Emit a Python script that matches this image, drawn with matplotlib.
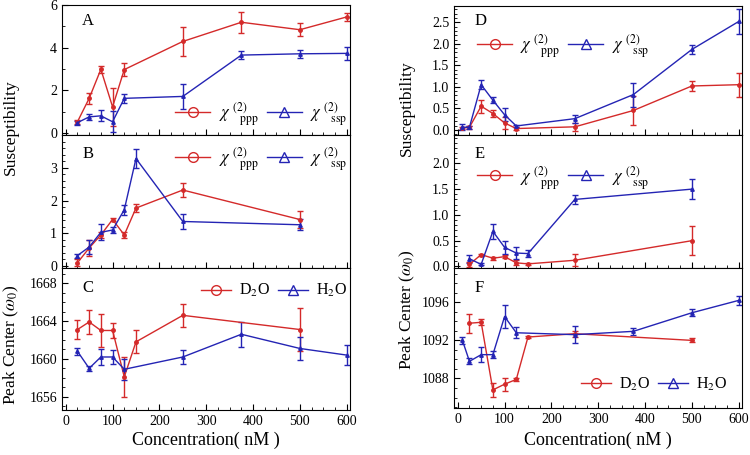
import numpy as np
import matplotlib
matplotlib.use("Agg")
import matplotlib.pyplot as plt
from matplotlib.lines import Line2D
from matplotlib.ticker import MultipleLocator

plt.rcParams['font.family'] = ['Liberation Serif', 'DejaVu Serif']
plt.rcParams['mathtext.fontset'] = 'stix'

red = '#d42a2a'
blue = '#2424b4'

# ---- panel A (susceptibility, left column) ----
a_x_ppp = [25, 50, 75, 100, 125, 250, 375, 500, 600]
a_ppp = [0.52, 1.62, 2.98, 1.22, 2.97, 4.29, 5.19, 4.84, 5.44]
a_ppp_err = [0.1, 0.25, 0.15, 0.9, 0.3, 0.7, 0.5, 0.3, 0.2]
a_x_ssp = [25, 50, 75, 100, 125, 250, 375, 500, 600]
a_ssp = [0.48, 0.75, 0.8, 0.52, 1.62, 1.71, 3.65, 3.71, 3.73]
a_ssp_err = [0.1, 0.15, 0.25, 0.5, 0.22, 0.6, 0.2, 0.18, 0.3]

# ---- panel B ----
b_x_ppp = [25, 50, 75, 100, 125, 150, 250, 500]
b_ppp = [0.1, 0.55, 0.95, 1.42, 0.95, 1.77, 2.32, 1.42]
b_ppp_err = [0.1, 0.25, 0.1, 0.05, 0.1, 0.12, 0.2, 0.27]
b_x_ssp = [25, 50, 75, 100, 125, 150, 250, 500]
b_ssp = [0.32, 0.58, 1.03, 1.1, 1.72, 3.28, 1.36, 1.26]
b_ssp_err = [0.06, 0.22, 0.25, 0.1, 0.15, 0.3, 0.22, 0.17]

# ---- panel C (peak center) ----
c_x_d2o = [25, 50, 75, 100, 125, 150, 250, 500]
c_d2o = [1663.1, 1663.9, 1663.0, 1663.0, 1658.1, 1661.8, 1664.6, 1663.1]
c_d2o_err = [1.05, 1.3, 1.7, 0.8, 2.1, 1.2, 1.25, 2.3]
c_x_h2o = [25, 50, 75, 100, 125, 250, 375, 500, 600]
c_h2o = [1660.8, 1659.0, 1660.2, 1660.2, 1658.9, 1660.2, 1662.6, 1661.1, 1660.4]
c_h2o_err = [0.35, 0.3, 0.8, 0.7, 1.1, 0.7, 1.3, 1.2, 1.05]

# ---- panel D ----
d_x_ppp = [10, 25, 50, 75, 100, 125, 250, 375, 500, 600]
d_ppp = [0.04, 0.06, 0.55, 0.38, 0.16, 0.03, 0.07, 0.45, 1.02, 1.05]
d_ppp_err = [0.03, 0.03, 0.15, 0.09, 0.15, 0.03, 0.1, 0.33, 0.11, 0.28]
d_x_ssp = [10, 25, 50, 75, 100, 125, 250, 375, 500, 600]
d_ssp = [0.06, 0.06, 1.05, 0.69, 0.35, 0.09, 0.26, 0.82, 1.87, 2.52]
d_ssp_err = [0.07, 0.03, 0.11, 0.07, 0.15, 0.03, 0.09, 0.28, 0.1, 0.28]

# ---- panel E ----
e_x_ppp = [25, 50, 75, 100, 125, 150, 250, 500]
e_ppp = [0.04, 0.23, 0.16, 0.19, 0.07, 0.05, 0.12, 0.5]
e_ppp_err = [0.05, 0.02, 0.03, 0.03, 0.05, 0.02, 0.12, 0.28]
e_x_ssp = [25, 50, 75, 100, 125, 150, 250, 500]
e_ssp = [0.15, 0.04, 0.68, 0.37, 0.26, 0.25, 1.3, 1.5]
e_ssp_err = [0.08, 0.02, 0.15, 0.12, 0.12, 0.07, 0.09, 0.19]

# ---- panel F ----
f_x_d2o = [25, 50, 75, 100, 125, 150, 250, 500]
f_d2o = [1093.8, 1093.9, 1086.8, 1087.4, 1087.9, 1092.35, 1092.7, 1092.0]
f_d2o_err = [1.0, 0.3, 0.7, 0.7, 0.12, 0.15, 0.3, 0.2]
f_x_h2o = [10, 25, 50, 75, 100, 125, 250, 375, 500, 600]
f_h2o = [1092.0, 1089.8, 1090.5, 1090.5, 1094.5, 1092.8, 1092.6, 1092.95, 1094.9, 1096.2]
f_h2o_err = [0.4, 0.3, 0.8, 0.4, 1.2, 0.6, 0.9, 0.4, 0.35, 0.5]

chi_ppp = r'$\chi^{\ (2)}_{\ \ \ \ \mathrm{ppp}}$'
chi_ssp = r'$\chi^{\ (2)}_{\ \ \ \ \mathrm{ssp}}$'
lbl_d2o = r'D$_2$O'
lbl_h2o = r'H$_2$O'

fig = plt.figure(figsize=(7.5, 4.55), dpi=100)
W, H = 750.0, 455.0


def box(x0, x1, y0, y1):
    return [x0 / W, 1 - y1 / H, (x1 - x0) / W, (y1 - y0) / H]


def draw(ax, x, y, err, color, marker):
    ax.errorbar(x, y, yerr=err, color=color, marker=marker, markersize=2.5,
                lw=1.0, elinewidth=1.0, capsize=2.2, capthick=1.0)


def style(ax, ylim, major, minor, bottom_labels):
    ax.set_xlim(-8, 607)
    ax.set_ylim(*ylim)
    ax.xaxis.set_major_locator(MultipleLocator(100))
    ax.xaxis.set_minor_locator(MultipleLocator(25))
    ax.set_yticks(major)
    ax.yaxis.set_minor_locator(MultipleLocator(minor))
    ax.tick_params(which='both', direction='in', labelsize=10, top=False, right=False)
    ax.tick_params(which='major', length=4)
    ax.tick_params(which='minor', length=2)
    if not bottom_labels:
        ax.tick_params(axis='x', labelbottom=False)


def legend(ax, labels, anchor, loc, hl=2.1, fs=12):
    h = [Line2D([], [], color=red, marker='o', mfc='none', markersize=7, lw=1),
         Line2D([], [], color=blue, marker='^', mfc='none', markersize=7, lw=1)]
    ax.legend(h, labels, loc=loc, bbox_to_anchor=anchor, ncol=2, frameon=False,
              fontsize=fs, handlelength=hl, handletextpad=0.5, columnspacing=0.5,
              borderpad=0, borderaxespad=0)


axA = fig.add_axes(box(62, 350, 5, 135))
axB = fig.add_axes(box(62, 350, 135, 268))
axC = fig.add_axes(box(62, 350, 268, 410))
axD = fig.add_axes(box(454, 742, 6, 135))
axE = fig.add_axes(box(454, 742, 135, 268))
axF = fig.add_axes(box(454, 742, 268, 408))

draw(axA, a_x_ppp, a_ppp, a_ppp_err, red, 'o')
draw(axA, a_x_ssp, a_ssp, a_ssp_err, blue, '^')
style(axA, (-0.1, 6.0), [0, 2, 4, 6], 1, False)
legend(axA, [chi_ppp, chi_ssp], (0.99, 0.16), 'center right')

draw(axB, b_x_ppp, b_ppp, b_ppp_err, red, 'o')
draw(axB, b_x_ssp, b_ssp, b_ssp_err, blue, '^')
style(axB, (-0.06, 4.0), [0, 1, 2, 3], 0.2, False)
legend(axB, [chi_ppp, chi_ssp], (0.99, 0.82), 'center right')

draw(axC, c_x_d2o, c_d2o, c_d2o_err, red, 'o')
draw(axC, c_x_h2o, c_h2o, c_h2o_err, blue, '^')
style(axC, (1654.6, 1669.6), [1656, 1660, 1664, 1668], 1, True)
legend(axC, [lbl_d2o, lbl_h2o], (0.99, 0.84), 'center right', hl=1.9, fs=11.5)

draw(axD, d_x_ppp, d_ppp, d_ppp_err, red, 'o')
draw(axD, d_x_ssp, d_ssp, d_ssp_err, blue, '^')
style(axD, (-0.12, 2.88), [0.0, 0.5, 1.0, 1.5, 2.0, 2.5], 0.1, False)
axD.set_yticklabels(['0.0', '0.5', '1.0', '1.5', '2.0', '2.5'])
legend(axD, [chi_ppp, chi_ssp], (0.08, 0.69), 'center left')

draw(axE, e_x_ppp, e_ppp, e_ppp_err, red, 'o')
draw(axE, e_x_ssp, e_ssp, e_ssp_err, blue, '^')
style(axE, (-0.03, 2.55), [0.0, 0.5, 1.0, 1.5, 2.0], 0.1, False)
axE.set_yticklabels(['0.0', '0.5', '1.0', '1.5', '2.0'])
legend(axE, [chi_ppp, chi_ssp], (0.08, 0.68), 'center left')

draw(axF, f_x_d2o, f_d2o, f_d2o_err, red, 'o')
draw(axF, f_x_h2o, f_h2o, f_h2o_err, blue, '^')
style(axF, (1084.9, 1099.6), [1088, 1092, 1096], 1, True)
legend(axF, [lbl_d2o, lbl_h2o], (0.44, 0.17), 'center left', hl=1.9, fs=11.5)

for ax, lab in zip([axA, axB, axC, axD, axE, axF], 'ABCDEF'):
    ax.text(0.07, 0.88 if lab in 'AD' else 0.86, lab, transform=ax.transAxes,
            fontsize=12, va='center', ha='left')

fig.text(11 / W, 1 - 127 / H, 'Susceptibility', rotation=90, ha='center', va='center', fontsize=12.5)
fig.text(11 / W, 1 - 345 / H, r'Peak Center ($\omega_0$)', rotation=90, ha='center', va='center', fontsize=12.5)
fig.text(407 / W, 1 - 108 / H, 'Susceptibility', rotation=90, ha='center', va='center', fontsize=12.5)
fig.text(407 / W, 1 - 310 / H, r'Peak Center ($\omega_0$)', rotation=90, ha='center', va='center', fontsize=12.5)
fig.text(206 / W, 1 - 440 / H, 'Concentration( nM )', ha='center', va='center', fontsize=13)
fig.text(598 / W, 1 - 440 / H, 'Concentration( nM )', ha='center', va='center', fontsize=13)

fig.savefig('out.png', dpi=100)
